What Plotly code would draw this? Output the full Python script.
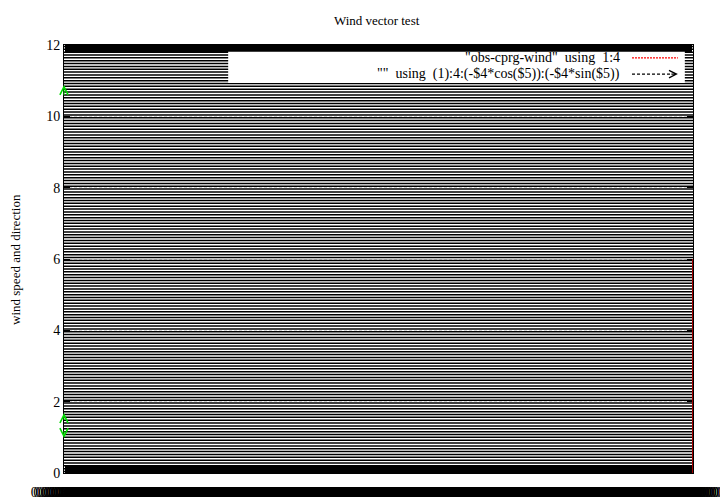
import plotly.graph_objects as go

FONT = "Liberation Serif"

# ---- data ----
# horizontal wind vectors (y levels), each spanning the full x range
vector_levels = [
    0.04, 0.12, 0.20, 0.28, 0.36, 0.44, 0.52, 0.60, 0.68, 0.76,
    0.84, 0.92, 1.00, 1.08, 1.16, 1.24, 1.32, 1.40, 1.48, 1.56,
    1.64, 1.72, 1.80, 1.88, 1.96, 2.04, 2.12, 2.20, 2.28, 2.36,
    2.44, 2.52, 2.60, 2.68, 2.76, 2.84, 2.92, 3.00, 3.08, 3.16,
    3.24, 3.32, 3.40, 3.48, 3.56, 3.64, 3.72, 3.80, 3.88, 3.96,
    4.04, 4.12, 4.20, 4.28, 4.36, 4.44, 4.52, 4.60, 4.68, 4.76,
    4.84, 4.92, 5.00, 5.08, 5.16, 5.24, 5.32, 5.40, 5.48, 5.56,
    5.64, 5.72, 5.80, 5.88, 5.96, 6.04, 6.12, 6.20, 6.28, 6.36,
    6.44, 6.52, 6.60, 6.68, 6.76, 6.84, 6.92, 7.00, 7.08, 7.16,
    7.24, 7.32, 7.40, 7.48, 7.56, 7.64, 7.72, 7.80, 7.88, 7.96,
    8.04, 8.12, 8.20, 8.28, 8.36, 8.44, 8.52, 8.60, 8.68, 8.76,
    8.84, 8.92, 9.00, 9.08, 9.16, 9.24, 9.32, 9.40, 9.48, 9.56,
    9.64, 9.72, 9.80, 9.88, 9.96, 10.04, 10.12, 10.20, 10.28, 10.36,
    10.44, 10.52, 10.60, 10.68, 10.76, 10.84, 10.92, 11.00, 11.08, 11.16,
    11.24, 11.32, 11.40, 11.48, 11.56, 11.64, 11.72, 11.80, 11.88, 11.96,
]
vector_x_start = 0.0
vector_x_end = 1.0

# obs-cprg-wind (column 1 vs 4) - all at right edge
obs_x = [1.0, 1.0, 1.0, 1.0, 1.0, 1.0, 1.0]
obs_y = [0.3, 2.1, 3.4, 6.0, 1.7, 4.6, 0.0]

# green vectors at left edge (tail -> head)
green_x = [0.0, 0.0, 0.0]
green_tail = [10.55, 1.45, 1.22]
green_head = [10.88, 1.68, 0.98]

# x axis: very dense time ticks whose labels overlap into a solid band
x_tick_step = 0.004
x_tick_format = ".8f"
y_tickvals = [0, 2, 4, 6, 8, 10, 12]

legend_labels = [
    '"obs-cprg-wind"\u00a0\u00a0using\u00a0\u00a01:4',
    '""\u00a0\u00a0using\u00a0\u00a0(1):4:(-$4*cos($5)):(-$4*sin($5))',
]

# ---- figure ----
fig = go.Figure()

vx, vy = [], []
for lv in vector_levels:
    vx += [vector_x_start, vector_x_end, None]
    vy += [lv, lv, None]
fig.add_trace(go.Scatter(x=vx, y=vy, mode="lines",
                         line=dict(color="black", width=1.5),
                         showlegend=False, hoverinfo="skip"))

fig.add_trace(go.Scatter(x=obs_x, y=obs_y, mode="lines",
                         line=dict(color="#a00000", width=2),
                         cliponaxis=False, showlegend=False))

annotations = []
for gx, t, h in zip(green_x, green_tail, green_head):
    annotations.append(dict(x=gx, y=h, ax=gx, ay=t, xref="x", yref="y",
                            axref="x", ayref="y", text="", showarrow=True,
                            arrowhead=5, arrowsize=1.6, arrowwidth=1.0,
                            arrowcolor="#00dd00"))

# legend (manual, gnuplot style)
leg_y = [0.970, 0.932]
for lbl, ly in zip(legend_labels, leg_y):
    annotations.append(dict(x=0.887, y=ly, xref="paper", yref="paper",
                            text=lbl, showarrow=False, xanchor="right",
                            yanchor="middle",
                            font=dict(family=FONT, size=14, color="black")))
# arrow key head
annotations.append(dict(x=0.976, y=leg_y[1], xref="paper", yref="paper",
                        ax=-8, ay=0, text="", showarrow=True, arrowhead=5,
                        arrowsize=1.2, arrowwidth=1.2, arrowcolor="black"))
# y-axis title
annotations.append(dict(x=-0.078, y=0.5, xref="paper", yref="paper",
                        text="wind speed and direction", textangle=-90,
                        showarrow=False, xanchor="center", yanchor="middle",
                        font=dict(family=FONT, size=13, color="black")))

shapes = [
    dict(type="rect", xref="paper", yref="paper", x0=0.261, x1=0.987,
         y0=0.911, y1=0.984, fillcolor="white", line=dict(width=0),
         layer="above"),
    dict(type="line", xref="paper", yref="paper", x0=0.903, x1=0.976,
         y0=leg_y[0], y1=leg_y[0], line=dict(color="red", width=1.2, dash="2px,1px"),
         layer="above"),
    dict(type="line", xref="paper", yref="paper", x0=0.903, x1=0.966,
         y0=leg_y[1], y1=leg_y[1], line=dict(color="black", width=1.2, dash="3px,2px"),
         layer="above"),
]

fig.update_layout(
    width=720, height=504,
    margin=dict(l=64, r=27, t=45, b=31),
    paper_bgcolor="white", plot_bgcolor="white",
    font=dict(family=FONT, size=14, color="black"),
    title=dict(text="Wind vector test", x=0.497, xref="paper", y=1 - 20 / 504,
               yref="container", xanchor="center", yanchor="middle",
               font=dict(family=FONT, size=13, color="black")),
    annotations=annotations,
    shapes=shapes,
    showlegend=False,
)

fig.update_xaxes(
    range=[0, 1], showgrid=False, zeroline=False, automargin=False,
    showline=True, linecolor="black", linewidth=1, mirror="allticks",
    ticks="inside", ticklen=7, tickcolor="black", tickwidth=3,
    tickmode="linear", tick0=0, dtick=x_tick_step, tickformat=x_tick_format,
    tickangle=0, ticklabeloverflow="allow", ticklabelstandoff=6,
    tickfont=dict(family=FONT, size=14, color="black"),
    layer="below traces",
)
fig.update_yaxes(
    range=[0, 12], zeroline=False, automargin=False,
    showline=True, linecolor="black", linewidth=1, mirror="allticks",
    ticks="inside", ticklen=6, tickcolor="black", tickwidth=1,
    tickvals=y_tickvals,
    showgrid=True, gridcolor="#d4d4d4", gridwidth=1, griddash="3px,2px",
    tickfont=dict(family=FONT, size=14, color="black"),
    layer="below traces",
)

fig.write_html("out.html")
